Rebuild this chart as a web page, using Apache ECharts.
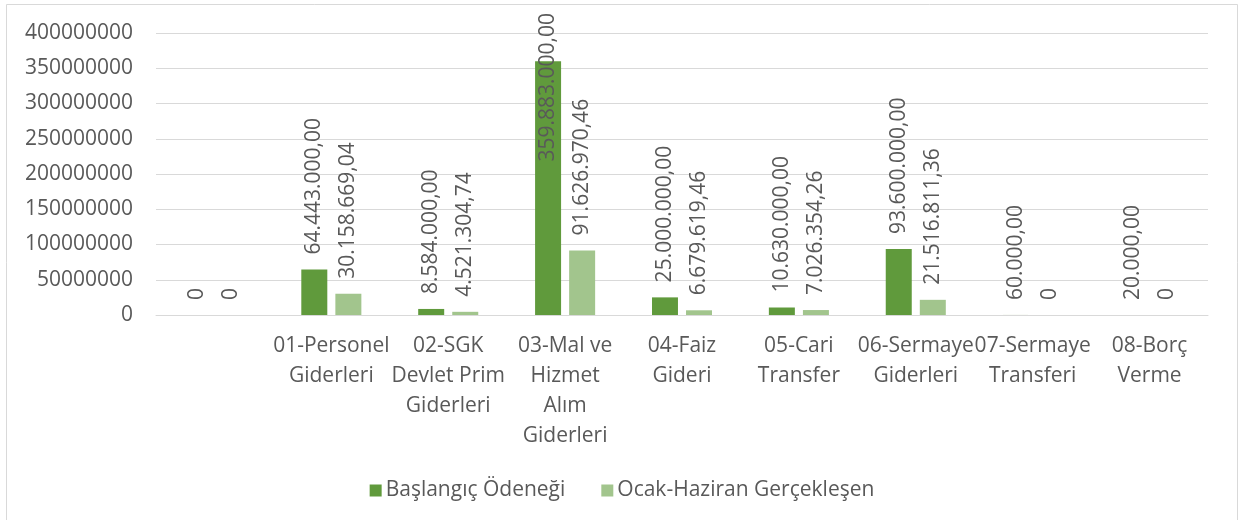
<!DOCTYPE html>
<html>
<head>
<meta charset="utf-8">
<script src="https://cdn.jsdelivr.net/npm/echarts@6/dist/echarts.min.js"></script>
<style>
html,body{margin:0;padding:0;background:#fff;}
#c{width:1244px;height:520px;}
</style>
</head>
<body>
<div id="c"></div>
<script>
const categories = ["", "01-Personel\nGiderleri", "02-SGK\nDevlet Prim\nGiderleri", "03-Mal ve\nHizmet\nAlım\nGiderleri", "04-Faiz\nGideri", "05-Cari\nTransfer", "06-Sermaye\nGiderleri", "07-Sermaye\nTransferi", "08-Borç\nVerme"];
const seriesNames = ["Başlangıç Ödeneği", "Ocak-Haziran Gerçekleşen"];
const baslangic = [0, 64443000, 8584000, 359883000, 25000000, 10630000, 93600000, 60000, 20000];
const gerceklesen = [0, 30158669.04, 4521304.74, 91626970.46, 6679619.46, 7026354.26, 21516811.36, 0, 0];
const yTicks = {min: 0, max: 400000000, interval: 50000000};

const FONT = "'Open Sans', 'Liberation Sans', sans-serif";
const TXT = '#595959';
const FS = 21;

function trFormat(v) {
  if (v === 0) return '0';
  const fixed = v.toFixed(2);
  let [ip, dp] = fixed.split('.');
  ip = ip.replace(/\B(?=(\d{3})+(?!\d))/g, '.');
  return ip + ',' + dp;
}

const chart = echarts.init(document.getElementById('c'), null, {renderer: 'canvas'});

const baseLabel = {
  show: true,
  position: 'top',
  rotate: 90,
  align: 'left',
  verticalAlign: 'middle',
  distance: 15,
  color: TXT,
  fontFamily: FONT,
  fontSize: FS,
  formatter: p => trFormat(p.value)
};

function buildOption(overflowDistance) {
  const darkData = baslangic.map(v => {
    if (overflowDistance !== null && v > yTicks.max * 0.6) {
      return {value: v, label: {position: 'top', align: 'right', distance: overflowDistance}};
    }
    return v;
  });
  return {
    animation: false,
    backgroundColor: '#fff',
    textStyle: {fontFamily: FONT},
    graphic: [{
      type: 'rect',
      shape: {x: 6.5, y: 4.5, width: 1231, height: 540},
      style: {fill: 'none', stroke: '#d9d9d9', lineWidth: 1},
      silent: true
    }],
    grid: {left: 156, right: 36, top: 33, bottom: 205},
    legend: {
      data: seriesNames,
      top: 475,
      left: 'center',
      itemWidth: 12,
      itemHeight: 12,
      itemGap: 36,
      icon: 'rect',
      textStyle: {color: TXT, fontSize: FS, fontFamily: FONT, padding: [0, 0, 0, -1]}
    },
    xAxis: {
      type: 'category',
      data: categories,
      axisLine: {show: true, lineStyle: {color: '#d9d9d9', width: 1}},
      axisTick: {show: false},
      axisLabel: {interval: 0, color: TXT, fontSize: FS, fontFamily: FONT, lineHeight: 30, margin: 16}
    },
    yAxis: {
      type: 'value',
      min: yTicks.min, max: yTicks.max, interval: yTicks.interval,
      axisLine: {show: false},
      axisTick: {show: false},
      splitLine: {lineStyle: {color: '#d9d9d9', width: 1}},
      axisLabel: {color: TXT, fontSize: FS, fontFamily: FONT, margin: 23, formatter: v => String(v)}
    },
    series: [
      {
        name: seriesNames[0], type: 'bar', data: darkData,
        barWidth: 26, barGap: '31%',
        itemStyle: {color: '#609A3C'},
        label: baseLabel
      },
      {
        name: seriesNames[1], type: 'bar', data: gerceklesen,
        barWidth: 26,
        itemStyle: {color: '#A2C58D'},
        label: baseLabel
      }
    ]
  };
}

chart.setOption(buildOption(null));
// Label for a bar too tall to fit its label above: pin the label's end near the top of the chart
const maxV = Math.max(...baslangic);
const barTopPx = chart.convertToPixel({yAxisIndex: 0}, maxV);
const chartTopPx = chart.convertToPixel({yAxisIndex: 0}, yTicks.max);
chart.setOption(buildOption(barTopPx - (chartTopPx - 20)), {notMerge: true});
</script>
</body>
</html>
